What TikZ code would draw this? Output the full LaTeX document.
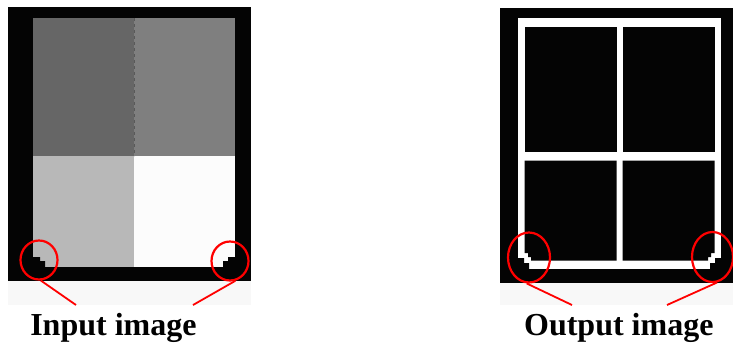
\documentclass[tikz,border=0pt]{standalone}
\usepackage{fontspec}
\setmainfont{Liberation Serif}
\usetikzlibrary{shapes.geometric}
\definecolor{blk}{HTML}{040404}
\definecolor{gA}{HTML}{666666}
\definecolor{gB}{HTML}{7F7F7F}
\definecolor{gC}{HTML}{B8B8B8}
\definecolor{gD}{HTML}{FCFCFC}
\definecolor{strip}{HTML}{F8F8F8}
\definecolor{mark}{HTML}{FF0000}
\tikzset{
  ring/.style={draw=mark, line width=2.2pt, ellipse, inner sep=0pt},
  pointer/.style={draw=mark, line width=1.8pt},
  caption/.style={anchor=base, inner sep=0pt, font=\fontsize{32}{38}\selectfont\bfseries}
}
\begin{document}
\begin{tikzpicture}[x=1pt,y=-1pt]
\useasboundingbox (0,0) rectangle (733,343);
\fill[white] (0,0) rectangle (733,343);
% ---------- input image ----------
\fill[strip] (8,281) rectangle (251,305);
\fill[blk] (8,7) rectangle (251,281);
\fill[gA] (33,18) rectangle (134,156);
\fill[gB] (134,18) rectangle (235,156);
\fill[gC] (33,156) rectangle (134,267);
\fill[gD] (134,156) rectangle (235,267);
\draw[gray!70!black, line width=0.6pt, dash pattern=on 3pt off 3pt] (134,18) -- (134,156);
\fill[blk] (33,257) -- (40,257) -- (40,261) -- (45,261) -- (45,268) -- (33,268) -- cycle;
\fill[blk] (235,257) -- (228,257) -- (228,261) -- (223,261) -- (223,268) -- (235,268) -- cycle;
% ---------- output image ----------
\fill[strip] (500,283) rectangle (733,305);
\fill[blk] (500,8) rectangle (733,283);
\fill[white] (518,18) rectangle (721,269);
\fill[blk] (524.5,27) rectangle (616.5,151.5);
\fill[blk] (622.5,27) rectangle (714.5,151.5);
\fill[blk] (524.5,160.5) -- (616.5,160.5) -- (616.5,260.5) -- (531,260.5) -- (531,257) -- (528,257) -- (528,253) -- (524.5,253) -- cycle;
\fill[blk] (622.5,160.5) -- (714.5,160.5) -- (714.5,253) -- (711,253) -- (711,257) -- (708,257) -- (708,260.5) -- (622.5,260.5) -- cycle;
\fill[blk] (518,258) -- (524,258) -- (524,263) -- (529,263) -- (529,269.5) -- (518,269.5) -- cycle;
\fill[blk] (721,258) -- (715,258) -- (715,263) -- (710,263) -- (710,269.5) -- (721,269.5) -- cycle;
% ---------- red markers ----------
\node[ring, minimum width=37pt, minimum height=39pt] (inL) at (39,260) {};
\node[ring, minimum width=37pt, minimum height=39pt] (inR) at (230,261) {};
\node[ring, minimum width=42pt, minimum height=50pt] (outL) at (529,257.5) {};
\node[ring, minimum width=41pt, minimum height=50pt] (outR) at (712.5,257) {};
\coordinate (inLend) at (76,305);
\coordinate (inRend) at (193,305);
\coordinate (outLend) at (572,305);
\coordinate (outRend) at (667,305);
\draw[pointer] (inL.-85) -- (inLend);
\draw[pointer] (inR.-75) -- (inRend);
\draw[pointer] (outL.-95) -- (outLend);
\draw[pointer] (outR.-80) -- (outRend);
% ---------- captions ----------
\node[caption] (capIn) at (113.4,335) {Input image};
\node[caption] (capOut) at (618.8,335) {Output image};
\end{tikzpicture}
\end{document}
